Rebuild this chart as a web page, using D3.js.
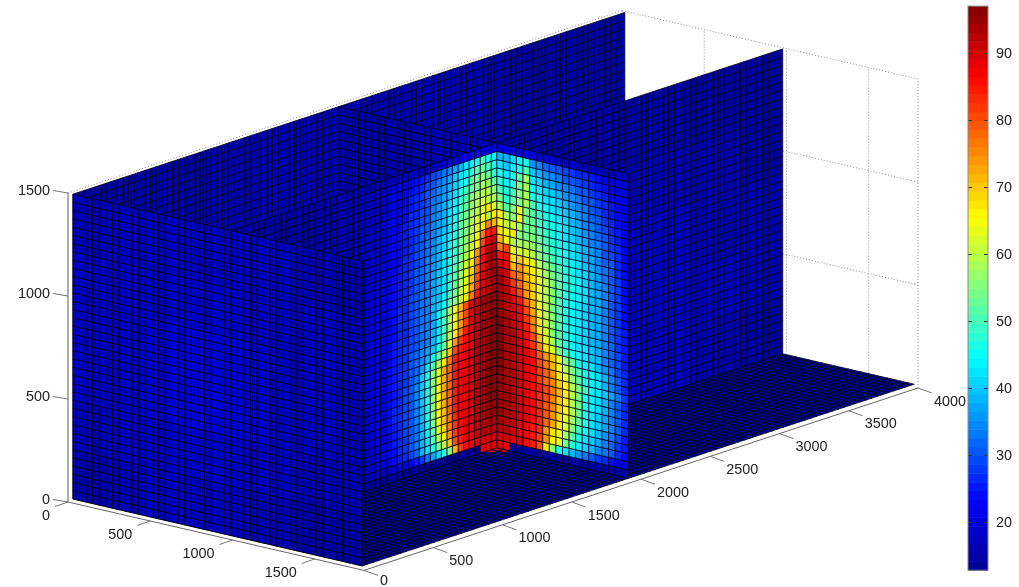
<!DOCTYPE html>
<html>
<head>
<meta charset="utf-8">
<script src="https://cdnjs.cloudflare.com/ajax/libs/d3/7.8.5/d3.min.js"></script>
<style>
  html, body { margin: 0; padding: 0; background: #fff; }
  svg { filter: blur(0.35px); }
  text { font-family: "Liberation Sans", Arial, sans-serif; font-size: 14.4px; fill: #222; }
</style>
</head>
<body>
<svg id="chart" width="1019" height="587"></svg>
<script>
const xTicks = [0, 500, 1000, 1500]
const yTicks = [0, 500, 1000, 1500, 2000, 2500, 3000, 3500, 4000]
const zTicks = [0, 500, 1000, 1500]
const colorTicks = [20, 30, 40, 50, 60, 70, 80, 90]
const colorRange = [12.8, 97]

// slice y=1920, x from 990 rightwards. top row first
const heatRight = [
  [21,21,21,21,20,20,20,20,19,19,19,19,18,18,18,18,17,17,17,17],
  [38,38,41,44,47,36,34,32,31,30,29,28,27,26,25,24,23,22,21,20],
  [42,40,44,46,50,40,38,36,34,33,31,30,29,28,27,25,24,23,22,20],
  [46,42,47,52,58,42,41,39,37,35,34,33,31,30,28,27,25,24,22,21],
  [48,44,48,54,58,45,43,41,40,38,36,34,33,31,30,28,26,25,23,21],
  [50,46,50,55,58,47,45,43,41,40,38,36,34,33,31,29,27,25,24,21],
  [54,48,52,56,58,50,47,45,43,41,40,38,36,34,32,30,28,26,24,22],
  [58,52,55,64,54,52,49,47,45,43,41,39,37,35,33,31,29,27,25,22],
  [66,58,56,66,53,53,50,48,46,44,42,40,38,36,34,32,30,28,25,22],
  [66,60,62,58,53,54,52,49,47,45,43,41,39,37,35,33,31,28,26,23],
  [68,64,67,55,54,55,53,50,48,46,44,42,40,38,36,34,31,29,26,23],
  [72,66,60,58,58,57,54,52,49,47,45,43,41,39,37,34,32,30,27,23],
  [76,80,64,62,62,60,56,53,50,48,46,44,42,40,37,35,33,30,27,24],
  [84,86,68,70,68,64,60,56,53,50,47,45,43,41,38,36,33,31,28,24],
  [90,88,72,74,70,66,62,58,54,51,48,46,44,41,39,36,34,31,28,24],
  [93,90,78,76,72,68,63,59,55,51,48,46,44,42,39,37,34,31,28,24],
  [94,91,82,78,73,69,64,60,55,51,48,45,44,42,39,37,34,31,28,24],
  [94,92,85,80,74,69,64,60,55,50,47,45,43,41,39,37,34,31,28,24],
  [95,93,88,84,78,71,65,60,54,50,47,44,43,41,39,37,34,31,28,24],
  [95,93,90,86,80,73,66,60,55,50,47,44,43,41,39,37,34,31,28,25],
  [95,94,91,87,82,75,67,61,55,50,47,45,43,41,39,37,34,31,28,25],
  [96,94,91,88,84,77,68,62,56,51,47,45,43,41,39,37,34,32,28,25],
  [96,94,92,89,86,80,71,64,58,52,48,45,43,42,40,37,35,32,29,25],
  [96,94,92,90,87,82,75,68,62,54,49,46,44,42,40,38,35,32,29,25],
  [96,94,92,90,88,85,79,74,70,63,56,51,47,44,42,39,36,33,29,26],
  [96,94,92,90,88,86,81,76,72,66,60,54,50,46,44,41,38,34,30,26],
  [96,94,92,90,88,86,82,78,74,68,63,57,52,47,44,42,39,35,30,27],
  [96,94,92,90,88,86,82,78,75,70,66,60,54,49,45,42,40,37,33,28],
  [95,94,92,90,88,86,84,80,76,71,66,60,54,47,44,41,38,35,31,27],
  [95,94,92,90,88,86,83,80,75,70,66,60,54,47,44,41,38,35,31,27],
  [95,94,92,90,88,86,83,79,75,70,65,59,53,47,43,40,37,34,30,26],
  [95,94,92,90,88,86,83,79,74,69,64,58,51,46,43,40,37,34,30,26],
  [95,94,92,90,88,86,83,78,73,68,62,55,49,45,42,39,36,33,29,25],
  [94,93,91,89,87,85,83,74,68,65,58,52,46,43,40,37,35,32,28,25],
  [93,92,90,88,87,85,82,74,66,64,54,48,44,41,38,35,33,30,27,24],
  [90,90,89,88,86,84,80,68,56,46,42,39,36,33,30,28,26,24,22,20],
  [89,89,15,15,15,15,15,15,15,15,15,15,15,15,15,15,15,15,15,15]
]

// slice x=990, y from 960 up to the corner at 1920. top row first
const heatLeft = [
  [15,15,15,16,16,16,17,17,17,17,18,18,18,19,19,20,20,21,21,22,22,22,22,22],
  [17,17,18,18,19,20,21,22,23,24,25,27,29,31,33,35,37,39,42,44,47,49,47,44],
  [17,18,18,19,20,21,22,23,24,25,27,29,31,33,35,37,40,42,45,48,51,52,50,46],
  [17,18,18,19,20,21,22,23,25,26,28,30,32,34,36,39,41,44,47,51,54,55,53,48],
  [17,18,19,19,20,21,23,24,25,27,28,30,33,35,37,40,43,46,50,53,56,58,57,52],
  [18,18,19,20,21,22,23,24,26,27,29,31,33,36,38,41,44,48,52,55,58,60,60,56],
  [18,18,19,20,21,22,23,25,26,28,29,31,34,36,39,42,45,49,53,57,60,62,60,58],
  [18,18,19,20,21,22,24,25,26,28,30,32,34,37,39,42,46,50,54,58,60,64,67,62],
  [18,19,19,20,21,23,24,25,27,28,30,32,35,37,40,43,47,51,55,59,62,66,60,67],
  [18,19,20,20,22,23,24,25,27,29,31,33,35,38,41,44,48,52,56,60,64,68,75,72],
  [18,19,20,21,22,23,24,26,27,29,31,33,36,38,41,45,49,53,57,61,65,76,85,85],
  [19,19,20,21,22,23,25,26,28,29,31,34,36,39,42,45,49,53,58,62,66,80,88,91],
  [19,19,20,21,22,24,25,26,28,30,32,34,36,39,42,46,50,54,59,66,74,85,91,93],
  [19,20,20,21,22,24,25,26,28,30,32,34,37,40,43,47,51,56,62,68,76,86,92,94],
  [19,20,21,21,23,24,25,27,28,30,32,35,37,40,43,48,52,57,63,69,78,87,92,94],
  [19,20,21,22,23,24,25,27,29,30,33,35,37,40,43,49,53,58,64,71,80,88,93,95],
  [19,20,21,22,23,24,26,27,29,31,33,35,38,40,44,50,54,60,66,73,82,89,93,95],
  [19,20,21,22,23,24,26,27,29,31,33,35,38,41,45,51,56,61,68,76,84,90,93,95],
  [19,20,21,22,23,24,26,27,29,31,33,35,38,44,50,58,65,72,80,88,91,94,95,96],
  [19,20,21,22,23,24,26,27,29,31,33,35,37,42,50,58,65,73,81,88,91,94,95,96],
  [19,20,21,22,23,25,26,27,29,31,33,35,38,43,50,58,66,74,82,88,91,94,95,96],
  [19,20,21,22,23,25,26,28,29,31,33,35,38,44,51,59,67,76,84,88,91,94,95,96],
  [19,20,21,22,23,25,26,28,30,32,34,37,40,47,53,63,74,82,86,88,91,94,95,96],
  [19,20,21,22,24,25,26,28,30,32,35,39,44,52,60,70,80,85,87,89,92,94,95,96],
  [19,20,21,22,24,25,26,28,30,32,36,42,50,58,68,76,84,86,89,90,92,94,96,96],
  [19,20,21,22,24,25,27,28,30,33,40,47,55,62,73,78,84,87,89,90,92,94,96,96],
  [19,20,21,22,24,25,27,29,31,34,40,47,56,64,73,78,84,87,89,90,92,94,96,96],
  [19,20,21,22,24,25,27,29,31,34,40,47,56,65,73,78,84,87,89,90,92,94,96,96],
  [19,20,21,22,24,26,27,29,31,34,40,47,56,66,73,78,84,87,89,90,92,94,96,96],
  [19,20,21,22,24,26,27,29,31,34,39,47,56,66,73,78,84,87,89,90,92,94,96,96],
  [19,20,21,22,24,25,27,29,31,34,39,46,55,66,72,78,84,87,89,90,92,94,96,96],
  [19,20,21,22,23,25,27,29,31,33,39,45,54,65,72,77,83,87,89,90,92,94,95,95],
  [18,19,20,22,23,25,26,28,30,33,39,44,52,62,70,76,82,86,88,90,92,94,95,95],
  [18,19,20,21,23,24,26,28,30,33,38,43,50,60,66,74,82,86,88,89,91,93,94,94],
  [18,19,20,21,22,24,25,27,29,32,38,43,47,54,60,70,80,85,88,89,90,92,93,93],
  [16,17,17,18,18,19,20,21,23,25,28,33,37,41,46,56,72,82,86,87,88,89,90,90],
  [14,14,14,14,14,14,14,14,14,14,14,14,14,14,14,14,14,14,14,14,14,89,89,89]
]

// the blue walls, read in coarse patches (top row first, left to right)
const frontWall = [
  [16,17,17,17,17,17,17,16,15],
  [17,18,18,19,19,18,18,17,16],
  [17,18,19,20,20,19,18,17,16],
  [17,18,19,20,20,19,18,17,16],
  [16,17,18,19,19,18,17,16,16],
  [15,16,17,17,17,16,16,15,15]
]
const backWall = [
  [15,15,16,16,16,16,15,15],
  [15,16,16,17,17,16,16,15],
  [16,16,17,17,17,17,16,15]
]
const midWall = [
  [15,15,16,16,16,16,15,15,15,15,15,15],
  [16,16,16,17,17,17,17,16,16,16,16,15],
  [17,17,17,18,18,17,17,17,17,17,16,16],
  [17,17,18,18,18,18,18,18,17,17,17,16],
  [16,16,17,17,17,17,17,17,17,17,16,15]
]
const crossWall = [
  [15,15,15,16,16,16],
  [15,16,16,16,17,17]
]
const floorPatch = [
  [13,13,14,14],
  [13,14,14,13]
]
// source cells on the floor, just in front of the corner [x index, y index]
const floorHot = [[24, 47], [25, 47], [24, 46]]

const svg = d3.select('#chart')

// oblique projection of the 3D box on the page
const xToLeft = d3.scaleLinear().domain([0, 1800]).range([0, 296])
const yToLeft = d3.scaleLinear().domain([0, 4000]).range([0, 554])
const xToTop = d3.scaleLinear().domain([0, 1800]).range([0, 68.4])
const yToTop = d3.scaleLinear().domain([0, 4000]).range([0, -182.4])
const zToTop = d3.scaleLinear().domain([0, 1500]).range([0, -309])
const project = (x, y, z) => [68 + xToLeft(x) + yToLeft(y), 502 + xToTop(x) + yToTop(y) + zToTop(z)]

// jet colormap, 64 levels like the colorbar
const jet = d3.scaleLinear()
  .domain([0, 0.125, 0.375, 0.625, 0.875, 1])
  .range(['#00008f', '#0000ff', '#00ffff', '#ffff00', '#ff0000', '#800000'])
const jetLevels = d3.range(64).map(i => jet((i + 0.5) / 64))
const color = d3.scaleQuantize().domain(colorRange).range(jetLevels)

const STEP = 40
const X0 = 30, NX = 44
const Z0 = 20, NZ = 37
const NY = 100, YEND = 3985
const XMID = X0 + 24 * STEP, YMID = 48 * STEP

const patch = (m, row, col, rows, cols) =>
  m[Math.floor(row / rows * m.length)][Math.floor(col / cols * m[0].length)]
const depth = c => c.x - 1.188 * c.y + 0.447 * c.z

let cells = []
const addCell = (corners, value) => {
  const n = corners.length
  const mid = [0, 1, 2].map(k => d3.sum(corners, c => c[k]) / n)
  cells.push({ x: mid[0], y: mid[1], z: mid[2], corners, value })
}
const yEdge = j => Math.min(j * STEP, YEND)

// walls standing on x = const
const addXWall = (x, valueAt) => {
  for (let j = 0; j < NY; j++) {
    for (let r = 0; r < NZ; r++) {
      const zt = Z0 + (NZ - r) * STEP, zb = zt - STEP
      addCell([[x, yEdge(j), zb], [x, yEdge(j + 1), zb], [x, yEdge(j + 1), zt], [x, yEdge(j), zt]], valueAt(j, r))
    }
  }
}
// walls standing on y = const
const addYWall = (y, valueAt) => {
  for (let i = 0; i < NX; i++) {
    for (let r = 0; r < NZ; r++) {
      const xa = X0 + i * STEP, xb = xa + STEP
      const zt = Z0 + (NZ - r) * STEP, zb = zt - STEP
      addCell([[xa, y, zb], [xb, y, zb], [xb, y, zt], [xa, y, zt]], valueAt(i, r))
    }
  }
}

addXWall(X0, (j, r) => patch(backWall, r, j, NZ, NY))
addXWall(XMID, (j, r) => (j >= 24 && j < 48) ? heatLeft[r][j - 24] : patch(midWall, r, j, NZ, NY))
addYWall(0, (i, r) => patch(frontWall, r, i, NZ, NX))
addYWall(YMID, (i, r) => i >= 24 ? heatRight[r][i - 24] : patch(crossWall, r, i, NZ, 24))

for (let i = 0; i < NX; i++) {
  for (let j = 0; j < NY; j++) {
    const xa = X0 + i * STEP, xb = xa + STEP
    const hot = floorHot.some(h => h[0] === i && h[1] === j)
    addCell([[xa, yEdge(j), Z0], [xb, yEdge(j), Z0], [xb, yEdge(j + 1), Z0], [xa, yEdge(j + 1), Z0]],
      hot ? 88 : patch(floorPatch, i, j, NX, NY))
  }
}
cells.sort((a, b) => d3.ascending(depth(a), depth(b)))

const line = d3.line()
const gridColor = '#8a8a8a'
const axisColor = '#666'

// back grid, dotted
const back = svg.append('g').attr('fill', 'none').attr('stroke', gridColor)
  .attr('stroke-width', 1).attr('stroke-dasharray', '1,2')
xTicks.concat([1800]).forEach(x => {
  back.append('path').attr('d', line([project(x, 4000, 0), project(x, 4000, 1500)]))
})
zTicks.slice(1).forEach(z => {
  back.append('path').attr('d', line([project(0, 4000, z), project(1800, 4000, z)]))
})
back.append('path').attr('d', line([project(0, 0, 1500), project(0, 4000, 1500)]))

// mesh
svg.append('g').attr('stroke', '#04041e').attr('stroke-width', 0.75).attr('stroke-linejoin', 'round')
  .selectAll('path').data(cells).enter().append('path')
  .attr('d', c => line(c.corners.map(p => project(p[0], p[1], p[2]))) + 'Z')
  .attr('fill', c => color(c.value))

// axis lines
const axes = svg.append('g').attr('fill', 'none').attr('stroke', axisColor)
axes.append('path').attr('d', line([project(0, 0, 0), project(0, 0, 1500)])).attr('stroke-width', 1.6).attr('stroke', '#999')
axes.append('path').attr('d', line([project(0, 0, 0), project(1800, 0, 0)])).attr('stroke-width', 1)
axes.append('path').attr('d', line([project(1800, 0, 0), project(1800, 4000, 0)])).attr('stroke-width', 1)

const ticks = svg.append('g').attr('fill', 'none').attr('stroke', axisColor).attr('stroke-width', 0.9)
const labels = svg.append('g')

zTicks.forEach(z => {
  const p = project(0, 0, z)
  ticks.append('path').attr('d', line([p, [p[0] - 15, p[1] - 2.5]]))
  labels.append('text').attr('x', 50).attr('y', p[1] - 3).attr('dy', '.35em')
    .attr('text-anchor', 'end').text(z)
})
xTicks.forEach(x => {
  const p = project(x, 0, 0)
  ticks.append('path').attr('d', line([p, [p[0] - 13, p[1] + 4.5]]))
  labels.append('text').attr('x', p[0] - 18).attr('y', p[1] + 13).attr('dy', '.35em')
    .attr('text-anchor', 'end').text(x)
})
yTicks.forEach(y => {
  const p = project(1800, y, 0)
  ticks.append('path').attr('d', line([p, [p[0] + 14, p[1] + 5]]))
  labels.append('text').attr('x', p[0] + 16).attr('y', p[1] + (y === 0 ? 9.5 : 12.5)).attr('dy', '.35em').text(y)
})

// colorbar
const barX = 968, barW = 20
const barY = d3.scaleLinear().domain([20, 90]).range([522, 53])
const levelEdges = d3.range(65).map(i => colorRange[0] + (colorRange[1] - colorRange[0]) * i / 64)
svg.append('g').selectAll('rect').data(jetLevels).enter().append('rect')
  .attr('x', barX).attr('width', barW)
  .attr('y', (d, i) => barY(levelEdges[i + 1]))
  .attr('height', (d, i) => barY(levelEdges[i]) - barY(levelEdges[i + 1]) + 0.5)
  .attr('fill', d => d)

const barRight = d3.axisRight(barY).tickValues(colorTicks).tickSizeInner(-4).tickSizeOuter(0).tickPadding(8)
const barLeft = d3.axisLeft(barY).tickValues(colorTicks).tickSizeInner(-4).tickSizeOuter(0).tickFormat('')
const gr = svg.append('g').attr('transform', `translate(${barX + barW},0)`).call(barRight)
const gl = svg.append('g').attr('transform', `translate(${barX},0)`).call(barLeft)
gr.select('.domain').remove()
gl.select('.domain').remove()
gr.selectAll('line').attr('stroke', '#333')
gl.selectAll('line').attr('stroke', '#333')
gr.attr('font-family', null).attr('font-size', null)
svg.append('rect').attr('x', barX).attr('y', barY(colorRange[1])).attr('width', barW)
  .attr('height', barY(colorRange[0]) - barY(colorRange[1]))
  .attr('fill', 'none').attr('stroke', '#888').attr('stroke-width', 1)
</script>
</body>
</html>
